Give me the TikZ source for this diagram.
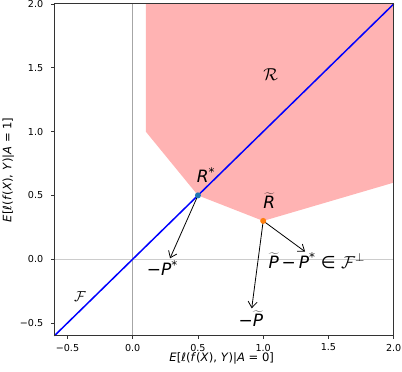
\documentclass[tikz,border=0pt]{standalone}
\usepackage{fontspec}
\setmainfont{DejaVu Sans}
\usetikzlibrary{arrows.meta}
\definecolor{regionc}{RGB}{255,179,179}
\definecolor{cblue}{RGB}{31,119,180}
\definecolor{corange}{RGB}{255,127,14}
\newcommand{\tildeP}{\ensuremath{\widetilde{\hbox{\itshape P}}}}
\newcommand{\tildeR}{\ensuremath{\widetilde{\hbox{\itshape R}}}}
\begin{document}
\begin{tikzpicture}[x=130.5pt,y=127.6pt,
  ticklab/.style={font=\fontsize{9.6}{11}\selectfont, inner sep=0pt},
  axlab/.style={font=\fontsize{11.6}{14}\selectfont, inner sep=0pt},
  anno/.style={font=\fontsize{17}{20}\selectfont, inner sep=0pt},
  arr/.style={-{Straight Barb[length=6pt,width=9pt]}, line width=0.8pt, black},
  ]
\useasboundingbox (-1.0169,-0.884) rectangle (2.0636,2.0313);
% region
\fill[regionc] (0.1,2) -- (0.1,1) -- (0.5,0.5) -- (1,0.3) -- (2,0.6) -- (2,2) -- cycle;
% zero lines
\coordinate (vb) at (0,-0.6);
\coordinate (vt) at (0,2);
\coordinate (hl) at (-0.6,0);
\coordinate (hr) at (2,0);
\draw[gray!70, line width=0.6pt] (vb) -- (vt);
\draw[gray!40, line width=0.6pt] (hl) -- (hr);
% F line
\coordinate (fa) at (-0.6,-0.6);
\coordinate (fb) at (2,2);
\draw[blue, line width=1.5pt] (fa) -- (fb);
% points
\coordinate (Rs) at (0.5,0.5);
\coordinate (Rt) at (1,0.3);
\coordinate (pA) at (0.286,0.007);
\coordinate (pB) at (1.321,0.059);
\coordinate (pC) at (0.912,-0.385);
\draw[arr] (Rs) -- (pA);
\draw[arr] (Rt) -- (pB);
\draw[arr] (Rt) -- (pC);
\fill[cblue] (Rs) circle (3pt);
\fill[corange] (Rt) circle (3pt);
% labels
\node[anno, anchor=base west] (lRs) at (0.49,0.6) {\textit{R}\textsuperscript{*}};
\node[anno, anchor=base west] (lRt) at (1.0,0.4) {\tildeR};
\node[anno, anchor=base west] (lmPs) at (0.107,-0.13) {−\textit{P}\textsuperscript{*}};
\node[anno, anchor=base west] (lPd) at (1.04,-0.071) {\tildeP\,−\,\textit{P}\textsuperscript{*} ∈ $\mathcal{F}^{\perp}$};
\node[anno, anchor=base west] (lmPt) at (0.81,-0.53) {−\tildeP};
\node[font=\fontsize{17}{20}\selectfont, inner sep=0pt] (lR) at (1.057,1.444) {$\mathcal{R}$};
\node[font=\fontsize{15.5}{18}\selectfont, inner sep=0pt] (lF) at (-0.404,-0.294) {$\mathcal{F}$};
% spines
\coordinate (bl) at (-0.6,-0.6);
\coordinate (tr) at (2,2);
\draw[black!80, line width=1pt] (bl) rectangle (tr);
% ticks
\foreach \v/\t [count=\i] in {-0.5/−0.5, 0/0.0, 0.5/0.5, 1/1.0, 1.5/1.5, 2/2.0} {
  \draw[black!80, line width=0.8pt] (\v,-0.6) -- ++(0,-3.5pt);
  \node[ticklab, anchor=north, yshift=-8pt] (xt\i) at (\v,-0.6) {\t};
  \draw[black!80, line width=0.8pt] (-0.6,\v) -- ++(-3.5pt,0);
  \node[ticklab, anchor=east, xshift=-11pt] (yt\i) at (-0.6,\v) {\t};
}
% axis labels
\node[axlab, anchor=base] (xlab) at (0.682,-0.803) {\textit{E}[\textit{ℓ}(\textit{f}(\textit{X}), \textit{Y})|\textit{A} = 0]};
\node[axlab, anchor=base, rotate=90] (ylab) at (-0.93,0.7) {\textit{E}[\textit{ℓ}(\textit{f}(\textit{X}), \textit{Y})|\textit{A} = 1]};
\end{tikzpicture}
\end{document}
